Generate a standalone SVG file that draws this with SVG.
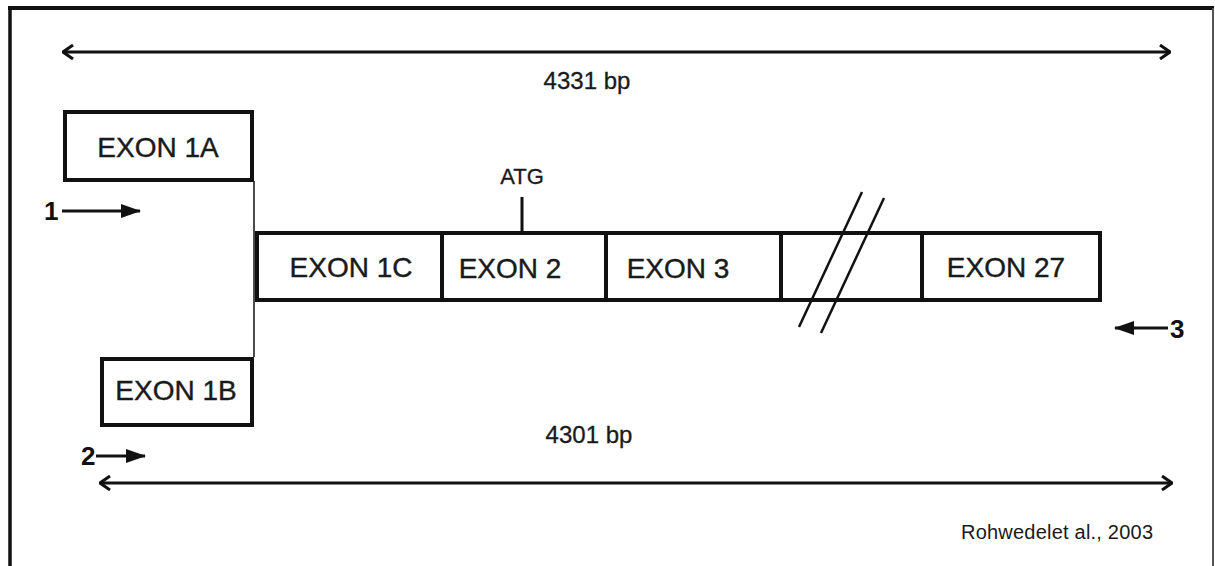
<svg xmlns="http://www.w3.org/2000/svg" width="1215" height="566" viewBox="0 0 1215 566">
<style>
.box{fill:#fff;stroke:#111;stroke-width:4}
.lbl{font-family:"Liberation Sans",Arial,sans-serif;font-size:28px;fill:#1a1a1a;stroke:#1a1a1a;stroke-width:0.4;text-anchor:middle}
.bp{font-family:"Liberation Sans",Arial,sans-serif;font-size:24px;fill:#1a1a1a;stroke:#1a1a1a;stroke-width:0.3;text-anchor:middle}
.atg{font-family:"Liberation Sans",Arial,sans-serif;font-size:22px;fill:#1a1a1a;stroke:#1a1a1a;stroke-width:0.3;text-anchor:middle}
.num{font-family:"Liberation Sans",Arial,sans-serif;font-size:26px;font-weight:bold;fill:#111}
.ln{stroke:#111;fill:none}
</style>
<defs>
<marker id="chev" viewBox="0 0 12 16" refX="11" refY="8" markerWidth="12" markerHeight="16" markerUnits="userSpaceOnUse" orient="auto-start-reverse">
<path d="M1,1 L11,8 L1,15" fill="none" stroke="#111" stroke-width="3"/>
</marker>
<marker id="tri" viewBox="0 0 20 14" refX="19" refY="7" markerWidth="20" markerHeight="14" markerUnits="userSpaceOnUse" orient="auto">
<path d="M0,0 L20,7 L0,14 Z" fill="#111"/>
</marker>
</defs>
<rect width="1215" height="566" fill="#fff"/>
<g id="frame">
<line x1="10" y1="8" x2="10" y2="566" stroke="#111" stroke-width="3.5"/>
<line x1="8" y1="8" x2="1214" y2="8" stroke="#111" stroke-width="4"/>
<line x1="1213" y1="8" x2="1213" y2="566" stroke="#555" stroke-width="2"/>
</g>
<g id="connectors">
<line class="ln" x1="63" y1="52" x2="1170" y2="52" stroke-width="3" marker-start="url(#chev)" marker-end="url(#chev)"/>
<line class="ln" x1="100" y1="483" x2="1172" y2="483" stroke-width="3" marker-start="url(#chev)" marker-end="url(#chev)"/>
<line class="ln" x1="254" y1="181" x2="254" y2="357" stroke-width="1.5"/>
<line class="ln" x1="522" y1="197" x2="522" y2="233" stroke-width="3"/>
<line class="ln" x1="62" y1="211" x2="140" y2="211" stroke-width="3" marker-end="url(#tri)"/>
<line class="ln" x1="96" y1="456" x2="145" y2="456" stroke-width="3" marker-end="url(#tri)"/>
<line class="ln" x1="1168" y1="328" x2="1115" y2="328" stroke-width="3" marker-end="url(#tri)"/>
</g>
<g id="exon1a"><rect class="box" x="65" y="112" width="187" height="68"/><text class="lbl" x="158" y="157">EXON 1A</text></g>
<g id="exon1b"><rect class="box" x="102" y="359" width="150" height="66"/><text class="lbl" x="176" y="400">EXON 1B</text></g>
<g id="exon1c"><rect class="box" x="257" y="233" width="185" height="67"/><text class="lbl" x="351" y="277">EXON 1C</text></g>
<g id="exon2"><rect class="box" x="442" y="233" width="164" height="67"/><text class="lbl" x="510" y="278">EXON 2</text></g>
<g id="exon3"><rect class="box" x="606" y="233" width="175" height="67"/><text class="lbl" x="678" y="278">EXON 3</text></g>
<g id="gap"><rect class="box" x="781" y="233" width="141" height="67"/>
<line class="ln" x1="862" y1="192" x2="799" y2="327" stroke-width="2.5"/>
<line class="ln" x1="884" y1="198" x2="821" y2="333" stroke-width="2.5"/></g>
<g id="exon27"><rect class="box" x="922" y="233" width="178" height="67"/><text class="lbl" x="1006" y="277">EXON 27</text></g>
<g id="atg"><text class="atg" x="522" y="184">ATG</text></g>
<g id="len1"><text class="bp" x="587" y="89">4331 bp</text></g>
<g id="len2"><text class="bp" x="589" y="443">4301 bp</text></g>
<g id="p1"><text class="num" x="44" y="220">1</text></g>
<g id="p2"><text class="num" x="81" y="465">2</text></g>
<g id="p3"><text class="num" x="1170" y="338">3</text></g>
<g id="cite"><text x="961" y="539" font-family="'Liberation Sans',Arial,sans-serif" font-size="20" fill="#1a1a1a" textLength="192">Rohwedelet al., 2003</text></g>
</svg>
